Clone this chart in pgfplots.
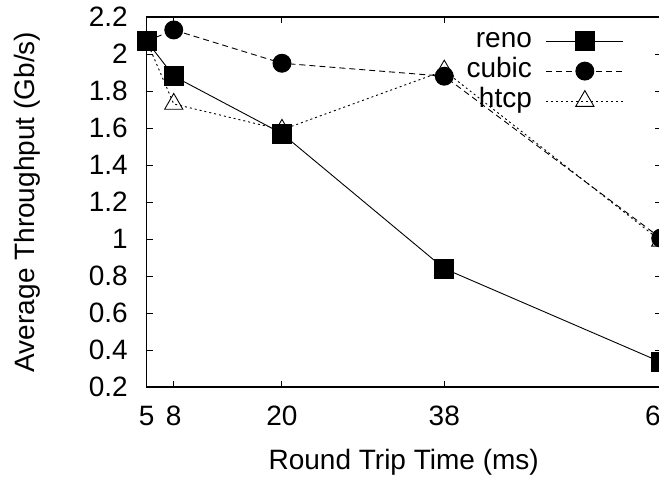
\documentclass[border=0pt]{standalone}
\usepackage{fontspec}
\setmainfont{Liberation Sans}
\usepackage{pgfplots}
\pgfplotsset{compat=1.18}

\begin{document}
\begin{tikzpicture}
  % the reference is cut off on the right, just past the last tick
  \useasboundingbox (-146.7pt,-96pt) rectangle (512.3pt,387pt);
  \clip (-146.7pt,-96pt) rectangle (512.3pt,387pt);
  \begin{axis}[
    scale only axis,
    width=514pt, height=370pt,
    xmin=5, xmax=62,
    ymin=0.2, ymax=2.2,
    xtick={5,8,20,38,62},
    ytick={0.2,0.4,0.6,0.8,1,1.2,1.4,1.6,1.8,2,2.2},
    font=\fontsize{28}{32}\selectfont,
    /pgf/number format/assume math mode=true,
    tick align=inside,
    major tick length=6pt,
    every tick/.style={black, line width=1pt},
    axis line style={line width=1.2pt},
    xticklabel style={anchor=center, yshift=-29pt},
    yticklabel style={anchor=east, inner sep=0pt, xshift=-18.7pt},
    xlabel={Round Trip Time (ms)},
    ylabel={Average Throughput (Gb/s)},
    xlabel style={at={(axis description cs:0.5,-0.2027)}, anchor=center},
    ylabel style={at={(axis description cs:-0.232,0.5)}, anchor=center},
    legend plot pos=right,
    legend cell align=right,
    legend style={draw=none, fill=none, inner sep=0pt,
      at={(0.9286,0.976)}, anchor=north east,
      nodes={text height=20pt, text depth=6.5pt, inner ysep=1.75pt},
      /tikz/every odd column/.append style={column sep=12pt}},
    legend image code/.code={
      \path[draw=none, fill=none] (0pt,-11pt) rectangle (77pt,11pt);
      \draw[mark indices={2}]
        plot coordinates {(0pt,0pt) (38.5pt,0pt) (77pt,0pt)};},
  ]

  \addplot[black, line width=0.9pt, mark=square*, mark size=9.5pt,
    mark options={solid}] coordinates {
    (5, 2.07)
    (8, 1.88)
    (20, 1.57)
    (38, 0.84)
    (62, 0.335)
  };
  \addplot[black, line width=0.9pt, dash pattern=on 6pt off 4pt,
    mark=*, mark size=9pt, mark indices={2,3,4,5},
    mark options={solid}] coordinates {
    (5, 2.07)
    (8, 2.13)
    (20, 1.95)
    (38, 1.88)
    (62, 1.005)
  };
  \addplot[black, line width=0.9pt, dash pattern=on 2pt off 3pt,
    mark=triangle, mark size=10.5pt, mark indices={2,3,4,5},
    mark options={solid, fill=white}] coordinates {
    (5, 2.07)
    (8, 1.73)
    (20, 1.59)
    (38, 1.91)
    (62, 0.99)
  };

  \legend{reno, cubic, htcp}
  \end{axis}
\end{tikzpicture}
\end{document}
